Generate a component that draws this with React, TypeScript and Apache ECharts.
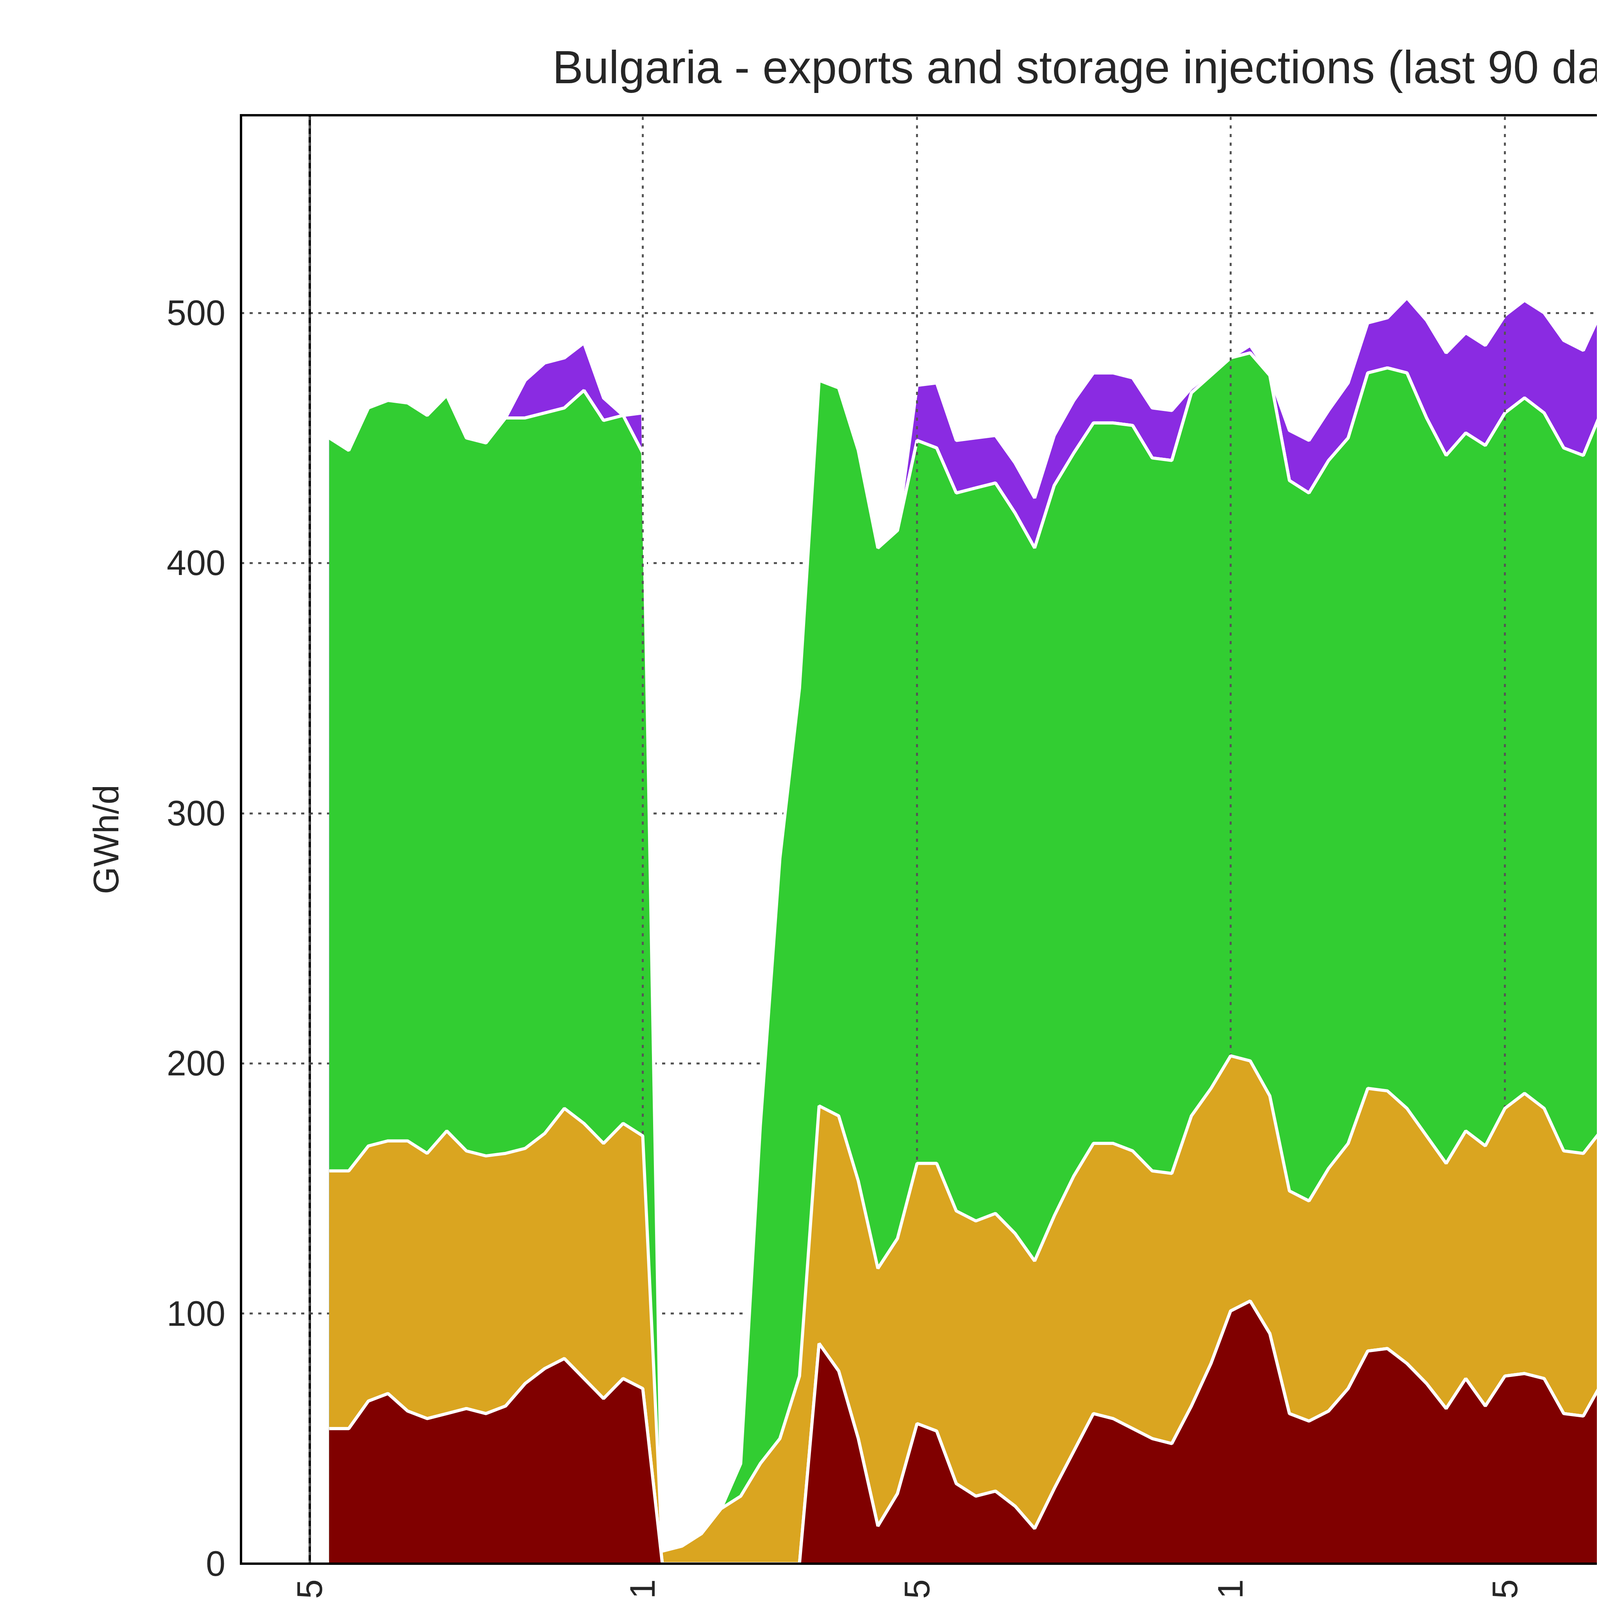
import React, { useEffect, useRef } from "react";
import * as echarts from "echarts";

const startDay = 1; // first data point = 2026-05-16 (day offset from 2026-05-15)
const greece = [54,54,65,68,61,58,60,62,60,63,72,78,82,74,66,74,70, 0,0,0,0,0,0,0,0,
 88,77,50,15,28,56,53,32,27,29,23,14,30,45,60,58,54,50,48,63,80,101,105,92,60,57,61,70,85,86,80,72,62,74,63,75,76,74,60,59,73,85,86,79,85,51,48,62,75,70,56,68,52,56,84,95,80,70,85,76,56,67,90,80,88,93];
const northMacedonia = [...new Array(73).fill(0), 2,3,8,5,4,3,5,9,8,7,8,6,6,8,12,5,6,6];
const romaniaTop = [157,157,167,169,169,164,173,165,163,164,166,172,182,176,168,176,171, 5,7,12,22,27,40,50,75,
 183,179,153,118,130,160,160,141,137,140,132,121,139,155,168,168,165,157,156,179,190,203,201,187,149,145,158,168,190,189,182,171,160,173,167,182,188,182,165,164,174,180,186,176,182,148,145,160,180,182,173,180,161,166,195,209,193,184,200,184,164,193,222,203,225,224];
const serbiaTop = [450,445,462,465,464,459,467,450,448,458,458,460,462,469,457,459,444, 5,7,12,22,40,175,282,350,
 473,470,445,406,413,449,446,428,430,432,420,406,431,444,456,456,455,442,441,468,475,482,484,475,433,428,441,450,476,478,476,458,443,452,447,460,466,460,446,443,462,467,475,460,459,430,427,448,468,470,458,465,441,444,475,488,476,468,483,465,441,473,505,491,510,513];
const turkey = new Array(91).fill(0);
const storage = [0,0,0,0,0,0,0,0,0,0,15,20,20,19,9,0,16, 0,0,0,0,0,0,0,0,0,0,0,0,0,
 22,26,21,20,19,20,20,20,21,20,20,19,20,20, 2,1,0,3,0,
 20,21,20,22,20,20,30,39,41,40,40,39,39,40,43,42,40,41,35,35,39,
 41,41,42,43,43,44,42,44,45,46,43,45,45,42,38,40,40,34,35,35,35];
const tickDays = [0, 17, 31, 47, 61, 78, 92];

// cumulative layer tops (stacked in order Greece, N. Macedonia, Romania, Serbia, Turkey, Storage)
const greeceCum = greece;
const nmCum = greece.map((v, i) => v + northMacedonia[i]);
const romCum = romaniaTop.map((v, i) => Math.max(v, nmCum[i]));
const serbCum = serbiaTop.map((v, i) => Math.max(v, romCum[i]));
const turkCum = serbCum.map((v, i) => v + turkey[i]);
const storCum = turkCum.map((v, i) => v + storage[i]);

const fmt = (d: number) => {
  const t = new Date(Date.UTC(2026, 4, 15) + Math.round(d) * 86400000);
  return t.toISOString().slice(0, 10);
};

export default function App() {
  const ref = useRef<HTMLDivElement>(null);
  useEffect(() => {
    const chart = echarts.init(ref.current!, undefined, { renderer: "svg" });
    const mk = (name: string, color: string, vals: number[], z: number) => ({
      name, type: "line", symbol: "none", z,
      data: vals.map((v, i) => [i + startDay, v]),
      itemStyle: { color },
      lineStyle: { color: "#ffffff", width: 8 },
      areaStyle: { color, opacity: 1 },
    });
    const series: any[] = [
      mk("Storage injections", "#8A2BE2", storCum, 2),
      mk("Exports - Turkey", "#4169E1", turkCum, 3),
      mk("Exports - Serbia", "#32CD32", serbCum, 4),
      mk("Exports - Romania", "#DAA520", romCum, 5),
      mk("Exports - North Macedonia", "#000000", nmCum, 6),
      mk("Exports - Greece", "#800000", greeceCum, 7),
      {
        type: "line", data: [], silent: true, z: 10,
        markLine: {
          symbol: "none", silent: true, label: { show: false },
          lineStyle: { color: "#555", type: [8, 14], width: 5 },
          data: tickDays.map((d) => ({ xAxis: d })),
        },
      },
    ];
    const txt = { fontFamily: "Liberation Sans, Arial, sans-serif", color: "#262626" };
    const legendCommon = {
      orient: "vertical", itemWidth: 265, itemHeight: 80, itemGap: 120,
      icon: "rect",
      textStyle: { ...txt, fontSize: 90, padding: [0, 0, 0, 100] },
    };
    chart.setOption({
      animation: false,
      title: { text: "Bulgaria - exports and storage injections (last 90 days)", left: "center", top: 100, textStyle: { ...txt, fontSize: 118, fontWeight: "normal" } },
      grid: { left: 609, right: 189, top: 287, bottom: 1911 },
      xAxis: {
        type: "value", min: -3.5, max: 93.4,
        axisLine: { lineStyle: { color: "#000", width: 6 } },
        axisTick: { show: false }, splitLine: { show: false },
        axisLabel: { show: true, customValues: tickDays, rotate: 90, fontSize: 90, margin: 40, ...txt, formatter: (v: number) => fmt(v) },
      },
      yAxis: {
        type: "value", min: 0, max: 579, interval: 100,
        name: "GWh/d", nameLocation: "middle", nameGap: 300, nameRotate: 90,
        nameTextStyle: { ...txt, fontSize: 90 },
        axisLine: { show: true, lineStyle: { color: "#000", width: 6 } },
        axisTick: { show: false },
        axisLabel: { fontSize: 90, margin: 40, ...txt, formatter: (v: number) => (v % 100 === 0 ? String(v) : "") },
        splitLine: { lineStyle: { color: "#555", type: [8, 14], width: 5 } },
      },
      legend: [
        { ...legendCommon, left: 740, top: 5230, data: ["Exports - Greece", "Exports - North Macedonia", "Exports - Romania"] },
        { ...legendCommon, left: 3060, top: 5230, data: ["Exports - Serbia", "Exports - Turkey", "Storage injections"] },
      ],
      graphic: [
        { type: "rect", shape: { x: 677, y: 5175, width: 3930, height: 645, r: 14 }, style: { fill: "#fff", stroke: "#cccccc", lineWidth: 6 }, z: -1 },
        { type: "rect", shape: { x: 609, y: 287, width: 4877, height: 3708 }, style: { fill: "none", stroke: "#000", lineWidth: 6 }, z: 100 },
      ],
      series,
    });
    return () => chart.dispose();
  }, []);
  return <div ref={ref} style={{ width: 5659, height: 5906 }} />;
}
